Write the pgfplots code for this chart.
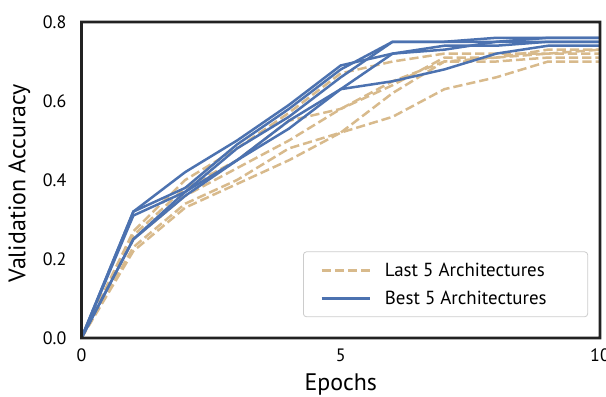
\documentclass[border=0pt]{standalone}
\usepackage{fontspec}
\setmainfont{PT Sans}
\usepackage{pgfplots}
\pgfplotsset{compat=1.18}
\definecolor{tanc}{RGB}{216,186,140}
\definecolor{bluec}{RGB}{76,114,176}
\definecolor{framec}{RGB}{34,34,34}
\begin{document}
\begin{tikzpicture}
\useasboundingbox (-81.5bp,-59bp) rectangle (524.5bp,338bp);
\begin{axis}[
  name=ax,
  at={(0,0)}, anchor=south west,
  scale only axis,
  width=518.5bp, height=316bp,
  xmin=0, xmax=10, ymin=0, ymax=0.8,
  xtick={0,5,10}, ytick={0,0.2,0.4,0.6,0.8},
  major tick length=0pt,
  axis line style={draw=framec, line width=2.6bp},
  /pgf/number format/assume math mode=true,
  yticklabel={\pgfmathprintnumber[fixed,fixed zerofill,precision=1]{\tick}},
  xticklabel={\pgfmathprintnumber[fixed,precision=0]{\tick}},
  ticklabel style={font=\fontsize{18}{21}\selectfont, inner sep=0pt},
  yticklabel style={xshift=-15bp},
  xticklabel style={yshift=-11bp},
  xlabel={Epochs},
  ylabel={Validation Accuracy},
  label style={font=\fontsize{24}{28}\selectfont},
  xlabel style={at={(axis description cs:0.5,-0.112)}, anchor=north, inner sep=0pt},
  ylabel style={at={(axis description cs:-0.12,0.49)}, anchor=center, inner sep=0pt},
  legend style={at={(axis description cs:0.977,0.066)}, anchor=south east,
    draw=black!20, line width=0.8bp, rounded corners=3bp, fill=white,
    font=\fontsize{19}{22}\selectfont, inner xsep=17bp, inner ysep=9bp,
    row sep=9bp, column sep=12bp, nodes={inner sep=2bp}},
  legend cell align=left,
  legend image code/.code={\draw[#1] (0bp,0bp) -- (48bp,0bp);},
  every axis plot/.append style={line width=2.5bp},
  clip=false,
]
\pgfplotsset{tanl/.style={color=tanc, dash pattern=on 9.25bp off 4bp}, bluel/.style={color=bluec}}
% Last 5
\addplot[tanl] coordinates {(0,0) (1,0.27) (2,0.40) (3,0.48) (4,0.57) (5,0.67) (6,0.70) (7,0.72) (8,0.72) (9,0.72) (10,0.72)};
\addlegendentry{Last 5 Architectures\hspace*{22bp}}
\addplot[tanl, forget plot] coordinates {(0,0) (1,0.26) (2,0.38) (3,0.45) (4,0.55) (5,0.58) (6,0.64) (7,0.71) (8,0.71) (9,0.72) (10,0.73)};
\addplot[tanl, forget plot] coordinates {(0,0) (1,0.25) (2,0.36) (3,0.43) (4,0.50) (5,0.58) (6,0.65) (7,0.70) (8,0.70) (9,0.71) (10,0.71)};
\addplot[tanl, forget plot] coordinates {(0,0) (1,0.23) (2,0.34) (3,0.40) (4,0.48) (5,0.52) (6,0.62) (7,0.70) (8,0.71) (9,0.73) (10,0.73)};
\addplot[tanl, forget plot] coordinates {(0,0) (1,0.22) (2,0.33) (3,0.39) (4,0.45) (5,0.52) (6,0.56) (7,0.63) (8,0.66) (9,0.70) (10,0.70)};
% Best 5
\addplot[bluel] coordinates {(0,0) (1,0.32) (2,0.42) (3,0.50) (4,0.59) (5,0.69) (6,0.72) (7,0.73) (8,0.75) (9,0.76) (10,0.76)};
\addlegendentry{Best 5 Architectures\hspace*{22bp}}
\addplot[bluel, forget plot] coordinates {(0,0) (1,0.32) (2,0.38) (3,0.49) (4,0.58) (5,0.68) (6,0.75) (7,0.75) (8,0.76) (9,0.76) (10,0.76)};
\addplot[bluel, forget plot] coordinates {(0,0) (1,0.31) (2,0.37) (3,0.48) (4,0.56) (5,0.66) (6,0.75) (7,0.75) (8,0.75) (9,0.75) (10,0.75)};
\addplot[bluel, forget plot] coordinates {(0,0) (1,0.25) (2,0.37) (3,0.45) (4,0.55) (5,0.63) (6,0.72) (7,0.74) (8,0.74) (9,0.75) (10,0.75)};
\addplot[bluel, forget plot] coordinates {(0,0) (1,0.25) (2,0.36) (3,0.45) (4,0.53) (5,0.63) (6,0.65) (7,0.68) (8,0.72) (9,0.74) (10,0.74)};
\end{axis}
\fill[framec, even odd rule]
  ([shift={(-1.3bp,-1.3bp)}]ax.south west) rectangle ([shift={(1.3bp,1.3bp)}]ax.north east)
  ([shift={(1.3bp,1.3bp)}]ax.south west) rectangle ([shift={(-1.3bp,-1.3bp)}]ax.north east);
\end{tikzpicture}
\end{document}
